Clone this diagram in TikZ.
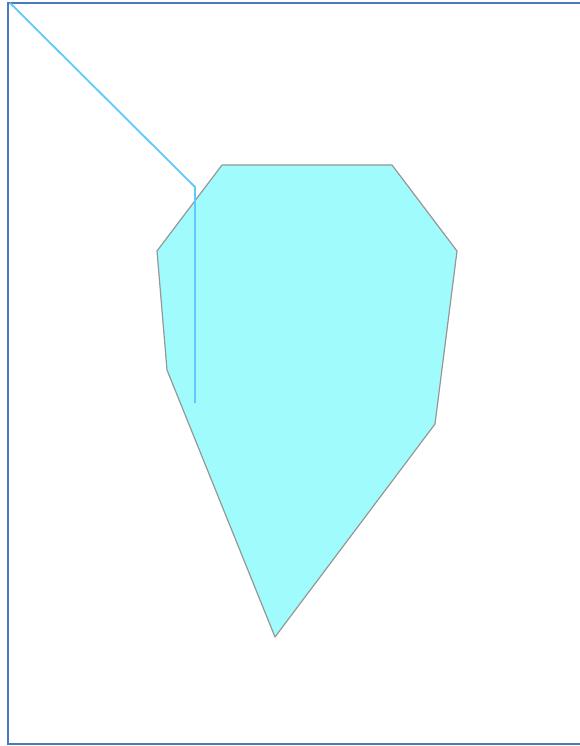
\documentclass[tikz,border=0pt]{standalone}
\usepackage{tikz}
\definecolor{framec}{RGB}{74,122,190}
\definecolor{shapefill}{RGB}{160,252,252}
\definecolor{shapeedge}{RGB}{150,150,150}
\definecolor{pathc}{RGB}{95,200,255}
\tikzset{
  frm/.style={draw=framec,line width=2pt},
  shp/.style={draw=shapeedge,fill=shapefill,line width=1.2pt,line join=round},
  pth/.style={draw=pathc,line width=1.8pt}
}

\begin{document}
\begin{tikzpicture}[x=1pt,y=-1pt]
\useasboundingbox (0,0) rectangle (579,746);
\draw[frm] (590,3) -- (7.5,3) -- (7.5,744) -- (590,744);
% outline
\coordinate (p1) at (222,165);
\coordinate (p2) at (392,165);
\coordinate (p3) at (457,251);
\coordinate (p4) at (435,424);
\coordinate (p5) at (275,637);
\coordinate (p6) at (167,370);
\coordinate (p7) at (157,251);
\draw[shp] (p1) -- (p2) -- (p3) -- (p4) -- (p5) -- (p6) -- (p7) -- cycle;
% track
\coordinate (t0) at (10,3);
\coordinate (t1) at (195,187);
\coordinate (t2) at (195,403);
\draw[pth] (t0) -- (t1) -- (t2);
\end{tikzpicture}
\end{document}
